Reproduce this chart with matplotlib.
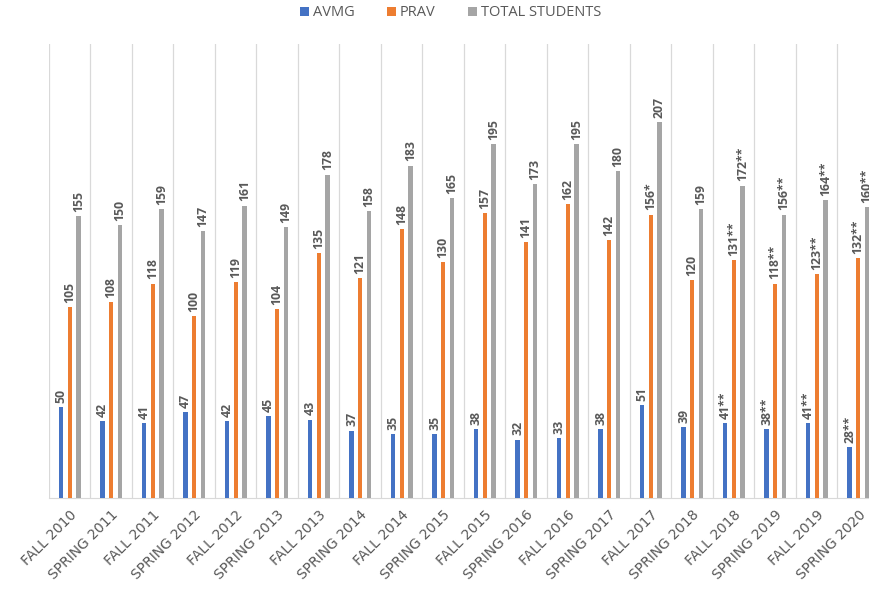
import numpy as np
import matplotlib.pyplot as plt
from matplotlib.ticker import FixedLocator

terms = ["FALL 2010", "SPRING 2011", "FALL 2011", "SPRING 2012", "FALL 2012",
         "SPRING 2013", "FALL 2013", "SPRING 2014", "FALL 2014", "SPRING 2015",
         "FALL 2015", "SPRING 2016", "FALL 2016", "SPRING 2017", "FALL 2017",
         "SPRING 2018", "FALL 2018", "SPRING 2019", "FALL 2019", "SPRING 2020"]

avmg = [50, 42, 41, 47, 42, 45, 43, 37, 35, 35, 38, 32, 33, 38, 51, 39, 41, 38, 41, 28]
prav = [105, 108, 118, 100, 119, 104, 135, 121, 148, 130, 157, 141, 162, 142, 156, 120,
        131, 118, 123, 132]
total = [155, 150, 159, 147, 161, 149, 178, 158, 183, 165, 195, 173, 195, 180, 207, 159,
         172, 156, 164, 160]

# footnote marks printed after some of the values
avmg_marks = [""] * 16 + ["**"] * 4
prav_marks = [""] * 14 + ["*", ""] + ["**"] * 4
total_marks = [""] * 16 + ["**"] * 4

series = [
    ("AVMG", avmg, avmg_marks, "#4472C4"),
    ("PRAV", prav, prav_marks, "#ED7D31"),
    ("TOTAL STUDENTS", total, total_marks, "#A5A5A5"),
]

plt.rcParams['font.family'] = ['Open Sans', 'DejaVu Sans']
text_color = "#595959"

fig = plt.figure(figsize=(8.7, 5.96), dpi=100)
# plot area runs past the right edge, as in the cropped original
ax = fig.add_axes([49 / 870, 98.3 / 596, 830 / 870, 453.7 / 596])

x = np.arange(len(terms))
width = 0.1
offsets = [-0.21, 0.0, 0.21]

for (name, vals, marks, color), off in zip(series, offsets):
    bars = ax.bar(x + off, vals, width, color=color, label=name, zorder=3)
    for b, v, m in zip(bars, vals, marks):
        ax.annotate(f"{v}{m}", (b.get_x() + b.get_width() / 2, b.get_height()),
                    xytext=(0, 3), textcoords="offset points",
                    rotation=90, ha="center", va="bottom",
                    fontsize=8.8, fontweight="bold", color=text_color)

ax.set_xlim(-0.5, len(terms) - 0.5)
ax.set_ylim(0, 250)
ax.set_yticks([])

ax.set_xticks(x)
ax.set_xticklabels(terms, rotation=45, ha="right", rotation_mode="anchor",
                   fontsize=10, color=text_color, family="DejaVu Sans")
ax.tick_params(axis="x", length=0, pad=7)
ax.xaxis.set_minor_locator(FixedLocator(np.arange(-0.5, len(terms), 1.0)))
ax.grid(which="minor", axis="x", color="#D9D9D9", linewidth=0.9, zorder=0)
ax.tick_params(axis="x", which="minor", length=0)

for side in ["top", "right", "left"]:
    ax.spines[side].set_visible(False)
ax.spines["bottom"].set_color("#D9D9D9")

fig.legend(loc="center", bbox_to_anchor=(0.518, 1 - 13 / 596), ncol=3, frameon=False,
           fontsize=10.5, labelcolor=text_color, handlelength=0.6, handleheight=0.6,
           handletextpad=0.3, columnspacing=2.2)

fig.savefig("out.png", dpi=100)
